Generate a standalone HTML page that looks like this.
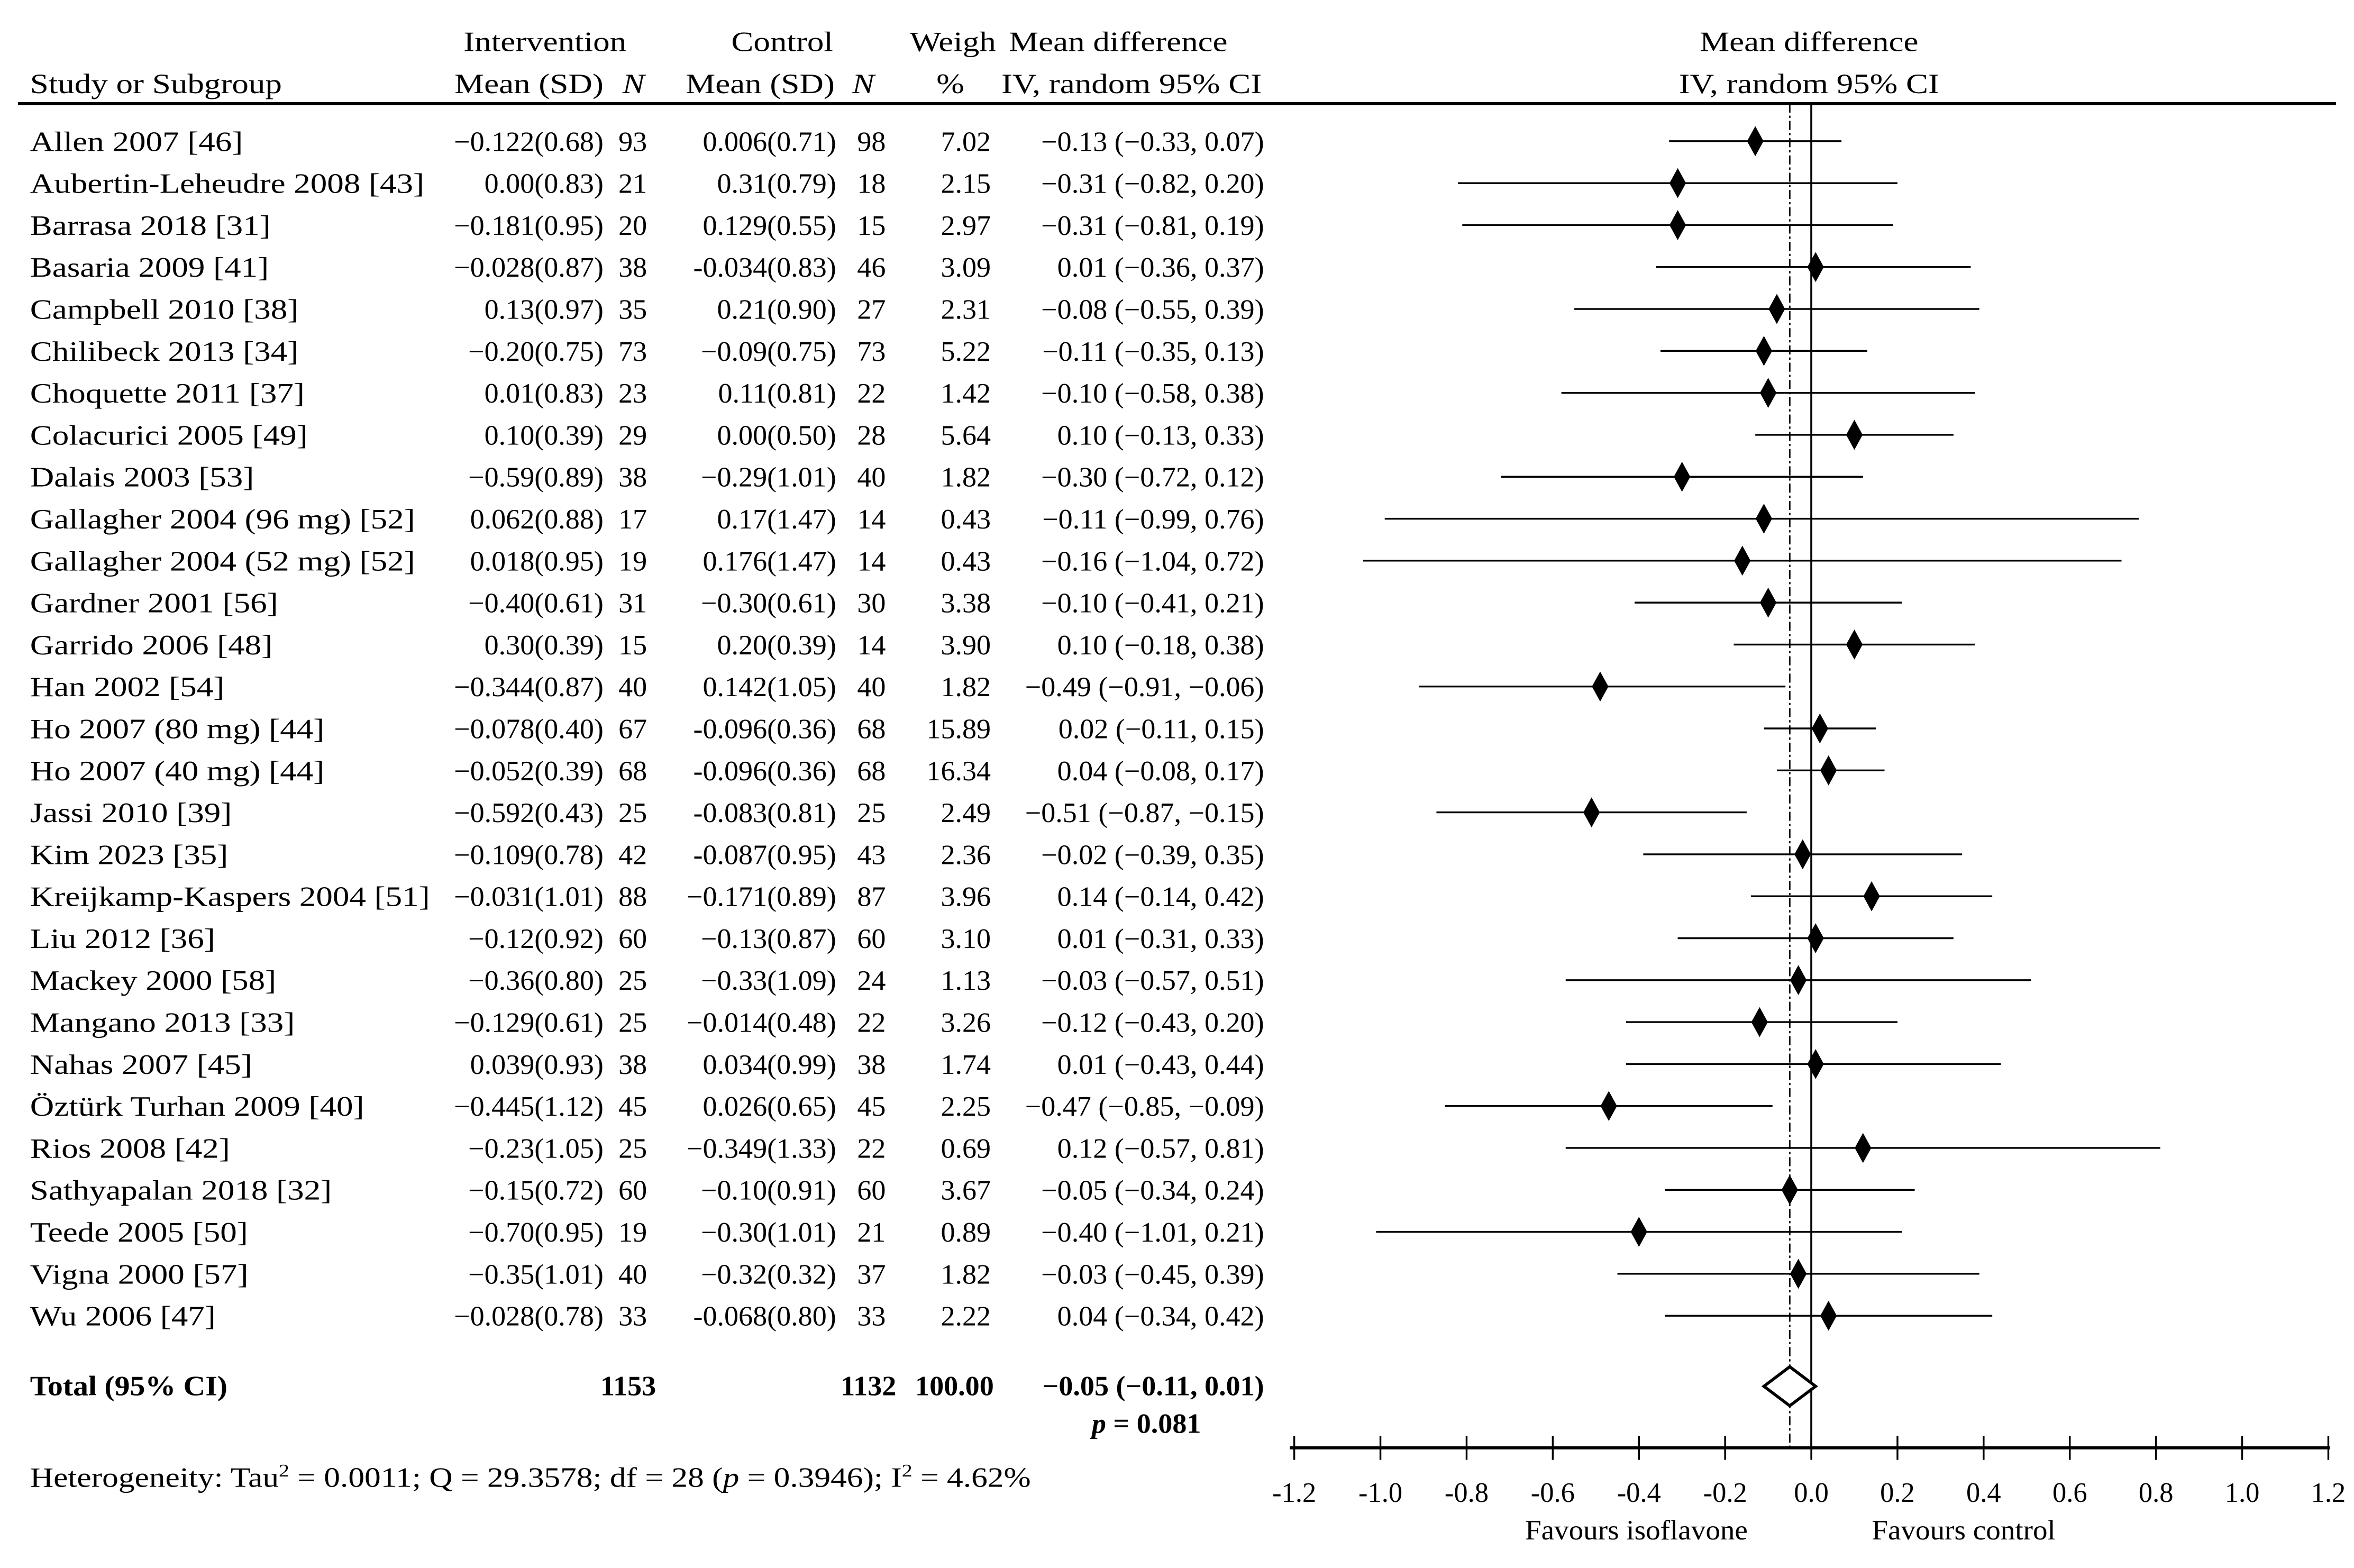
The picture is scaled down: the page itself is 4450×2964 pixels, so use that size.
<!DOCTYPE html>
<html><head><meta charset="utf-8"><style>
html,body{margin:0;padding:0;background:#fff}
svg{display:block}
text{font-family:"Liberation Serif",serif;font-size:18.5px;fill:#000}
</style></head><body>
<svg id="c" width="4450" height="2964" viewBox="0 0 1568 1044" preserveAspectRatio="none" xmlns="http://www.w3.org/2000/svg"></svg>
<script>
const studies=["Allen 2007 [46]","Aubertin-Leheudre 2008 [43]","Barrasa 2018 [31]","Basaria 2009 [41]","Campbell  2010 [38]","Chilibeck 2013 [34]","Choquette 2011 [37]","Colacurici 2005 [49]","Dalais 2003 [53]","Gallagher 2004 (96 mg) [52]","Gallagher 2004 (52 mg) [52]","Gardner 2001 [56]","Garrido 2006 [48]","Han 2002 [54]","Ho 2007 (80 mg) [44]","Ho 2007 (40 mg) [44]","Jassi 2010 [39]","Kim 2023 [35]","Kreijkamp-Kaspers 2004 [51]","Liu 2012 [36]","Mackey 2000 [58]","Mangano 2013 [33]","Nahas 2007 [45]","Öztürk Turhan 2009 [40]","Rios 2008 [42]","Sathyapalan 2018 [32]","Teede 2005 [50]","Vigna 2000 [57]","Wu 2006 [47]"];
const intMean=["−0.122(0.68)","0.00(0.83)","−0.181(0.95)","−0.028(0.87)","0.13(0.97)","−0.20(0.75)","0.01(0.83)","0.10(0.39)","−0.59(0.89)","0.062(0.88)","0.018(0.95)","−0.40(0.61)","0.30(0.39)","−0.344(0.87)","−0.078(0.40)","−0.052(0.39)","−0.592(0.43)","−0.109(0.78)","−0.031(1.01)","−0.12(0.92)","−0.36(0.80)","−0.129(0.61)","0.039(0.93)","−0.445(1.12)","−0.23(1.05)","−0.15(0.72)","−0.70(0.95)","−0.35(1.01)","−0.028(0.78)"];
const intN=[93,21,20,38,35,73,23,29,38,17,19,31,15,40,67,68,25,42,88,60,25,25,38,45,25,60,19,40,33];
const ctlMean=["0.006(0.71)","0.31(0.79)","0.129(0.55)","-0.034(0.83)","0.21(0.90)","−0.09(0.75)","0.11(0.81)","0.00(0.50)","−0.29(1.01)","0.17(1.47)","0.176(1.47)","−0.30(0.61)","0.20(0.39)","0.142(1.05)","-0.096(0.36)","-0.096(0.36)","-0.083(0.81)","-0.087(0.95)","−0.171(0.89)","−0.13(0.87)","−0.33(1.09)","−0.014(0.48)","0.034(0.99)","0.026(0.65)","−0.349(1.33)","−0.10(0.91)","−0.30(1.01)","−0.32(0.32)","-0.068(0.80)"];
const ctlN=[98,18,15,46,27,73,22,28,40,14,14,30,14,40,68,68,25,43,87,60,24,22,38,45,22,60,21,37,33];
const weights=["7.02","2.15","2.97","3.09","2.31","5.22","1.42","5.64","1.82","0.43","0.43","3.38","3.90","1.82","15.89","16.34","2.49","2.36","3.96","3.10","1.13","3.26","1.74","2.25","0.69","3.67","0.89","1.82","2.22"];
const md=[-0.13,-0.31,-0.31,0.01,-0.08,-0.11,-0.10,0.10,-0.30,-0.11,-0.16,-0.10,0.10,-0.49,0.02,0.04,-0.51,-0.02,0.14,0.01,-0.03,-0.12,0.01,-0.47,0.12,-0.05,-0.40,-0.03,0.04];
const lo=[-0.33,-0.82,-0.81,-0.36,-0.55,-0.35,-0.58,-0.13,-0.72,-0.99,-1.04,-0.41,-0.18,-0.91,-0.11,-0.08,-0.87,-0.39,-0.14,-0.31,-0.57,-0.43,-0.43,-0.85,-0.57,-0.34,-1.01,-0.45,-0.34];
const hi=[0.07,0.20,0.19,0.37,0.39,0.13,0.38,0.33,0.12,0.76,0.72,0.21,0.38,-0.06,0.15,0.17,-0.15,0.35,0.42,0.33,0.51,0.20,0.44,-0.09,0.81,0.24,0.21,0.39,0.42];
const totalMd=-0.05, totalLo=-0.11, totalHi=0.01;
const ticks=[-1.2,-1.0,-0.8,-0.6,-0.4,-0.2,0.0,0.2,0.4,0.6,0.8,1.0,1.2];
const tickLabels=["-1.2","-1.0","-0.8","-0.6","-0.4","-0.2","0.0","0.2","0.4","0.6","0.8","1.0","1.2"];

const svg=document.getElementById('c');
const NS="http://www.w3.org/2000/svg";
const X0=1206.5, SC=287;
const xs=v=>X0+v*SC;
const rowY=i=>94+27.93*i;
const SX=1.2, NX=1.03;
function fmt(v){return (v<0?"−":"")+Math.abs(v).toFixed(2);}
function el(tag,attrs,txt){const e=document.createElementNS(NS,tag);for(const k in attrs)e.setAttribute(k,attrs[k]);if(txt!==undefined)e.textContent=txt;svg.appendChild(e);return e;}
function t(x,y,s,anchor,name,extra,sx){const k=sx||SX;
const e=el('text',Object.assign({x:x,y:y,'text-anchor':anchor||'start',transform:`translate(${x},0) scale(${k},1) translate(${-x},0)`},extra||{}),s);


return e;}

// headers
t(363,34,"Intervention","middle","header-intervention");
t(521,34,"Control","middle","header-control");
t(606,34,"Weigh","start","header-weight");
t(672,34,"Mean difference","start","header-mean-difference");
t(1205,34,"Mean difference","middle","header-plot-mean-difference");
t(20,62,"Study or Subgroup","start","header-study");
t(402,62,"Mean (SD)","end","header-int-mean");
t(422,62,"N","middle","header-int-n",{'font-style':'italic'});
t(556,62,"Mean (SD)","end","header-ctl-mean");
t(575,62,"N","middle","header-ctl-n",{'font-style':'italic'});
t(633,62,"%","middle","header-percent");
t(667,62,"IV, random 95% CI","start","header-ci");
t(1205,62,"IV, random 95% CI","middle","header-plot-ci");
let r=el('line',{x1:12,y1:69,x2:1556,y2:69,stroke:'#000','stroke-width':2});



// reference lines
let v0=el('line',{x1:xs(0),y1:69,x2:xs(0),y2:964,stroke:'#000','stroke-width':1.3});


let vd=el('line',{x1:xs(totalMd),y1:69,x2:xs(totalMd),y2:964,stroke:'#000','stroke-width':1,'stroke-dasharray':'6,2,1.5,2'});



studies.forEach((s,i)=>{
  const y=rowY(i), b=y+6.5;
  t(20,b,s,"start","study-name");
  t(402,b,intMean[i],"end","intervention-mean",{},NX);
  t(431,b,String(intN[i]),"end","intervention-n",{},NX);
  t(557,b,ctlMean[i],"end","control-mean",{},NX);
  t(590,b,String(ctlN[i]),"end","control-n",{},NX);
  t(660,b,weights[i],"end","weight",{},NX);
  t(842,b,fmt(md[i])+" ("+fmt(lo[i])+", "+fmt(hi[i])+")","end","mean-difference-ci",{},NX);
  const ln=el('line',{x1:xs(lo[i]),y1:y,x2:xs(hi[i]),y2:y,stroke:'#000','stroke-width':1.2});
  
  
  const cx=xs(md[i]);
  const d=el('polygon',{points:`${cx},${y-10} ${cx+5.5},${y} ${cx},${y+10} ${cx-5.5},${y}`,fill:'#000'});
  
  
});

// total
t(20,929,"Total (95% CI)","start","total-label",{'font-weight':'bold'},1.1);
t(437,929,"1153","end","total-int-n",{'font-weight':'bold'},NX);
t(597,929,"1132","end","total-ctl-n",{'font-weight':'bold'},NX);
t(662,929,"100.00","end","total-weight",{'font-weight':'bold'},NX);
t(842,929,fmt(totalMd)+" ("+fmt(totalLo)+", "+fmt(totalHi)+")","end","total-ci",{'font-weight':'bold'},NX);
const pt=t(800,954,"","end","p-value",{'font-weight':'bold'},NX);
pt.innerHTML='<tspan font-style="italic">p</tspan> = 0.081';
const tm=923;
const dm=el('polygon',{points:`${xs(totalLo)},${tm} ${xs(totalMd)},${tm-13} ${xs(totalHi)},${tm} ${xs(totalMd)},${tm+13}`,fill:'#fff',stroke:'#000','stroke-width':2});



const ht=t(20,990,"","start","heterogeneity",{},1.17);
ht.innerHTML='Heterogeneity: Tau<tspan dy="-7" font-size="12">2</tspan><tspan dy="7"> = 0.0011; Q = 29.3578; df = 28 (</tspan><tspan font-style="italic">p</tspan>  = 0.3946); I<tspan dy="-7" font-size="12">2</tspan><tspan dy="7"> = 4.62%</tspan>';

// axis
const ax=el('line',{x1:xs(-1.2)-3,y1:964,x2:xs(1.2)+1,y2:964,stroke:'#000','stroke-width':2});


ticks.forEach((v,i)=>{
  const tk=el('line',{x1:xs(v),y1:956,x2:xs(v),y2:972,stroke:'#000','stroke-width':1.2});
  
  
  t(xs(v),1000,tickLabels[i],"middle","x-tick-label",{'font-size':'16.5'},1.0);
});
t(1090,1025,"Favours isoflavone","middle","favours-isoflavone-label",{'font-size':'16.5'},1.05);
t(1308,1025,"Favours control","middle","favours-control-label",{'font-size':'16.5'},1.05);
</script>
</body></html>
